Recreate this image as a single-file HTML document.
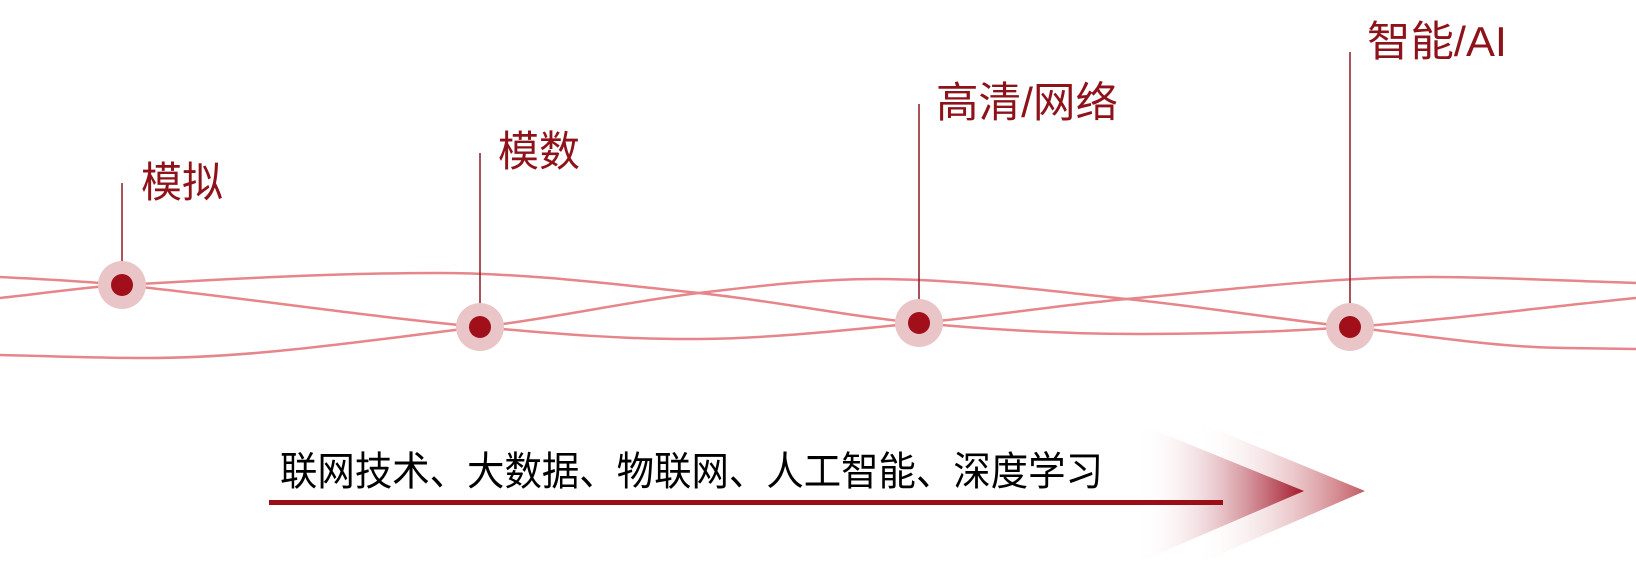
<!DOCTYPE html>
<html><head><meta charset="utf-8"><style>
html,body{margin:0;padding:0;background:#fff;}
svg{display:block;}
</style></head><body>
<svg width="1636" height="565" viewBox="0 0 1636 565" xmlns="http://www.w3.org/2000/svg">
<defs>
<linearGradient id="g1" x1="1195" y1="0" x2="1365" y2="0" gradientUnits="userSpaceOnUse">
<stop offset="0" stop-color="#fff" stop-opacity="0"/>
<stop offset="1" stop-color="#c25a63"/>
</linearGradient>
<linearGradient id="g2" x1="1137" y1="0" x2="1304" y2="0" gradientUnits="userSpaceOnUse">
<stop offset="0" stop-color="#fff" stop-opacity="0"/>
<stop offset="1" stop-color="#a3182a"/>
</linearGradient>
</defs>
<g fill="none" stroke="#e6858a" stroke-width="2.5">
<path d="M0,277 C40.7,279 81.3,280.8 122,285 C241.3,297.4 360.7,315.9 480,327 C553.3,333.8 626.7,339.7 700,339 C773,338.3 846,329.9 919,323 C988.3,316.5 1057.7,305.2 1127,299 C1228,289.9 1329,277 1430,277 C1498.7,277 1567.3,281 1636,283"/>
<path d="M0,298 C40.7,293.9 81.3,287.3 122,285 C227.3,279 332.7,273 438,273 C525,273 612,284 699,293 C772.3,300.6 845.7,316.1 919,323 C991.7,329.8 1064.3,334 1137,334 C1208,334 1279,332.1 1350,327 C1445.3,320.1 1540.7,307.5 1636,298"/>
<path d="M0,355 C48.7,356 97.3,358 146,358 C257.3,358 368.7,340.1 480,327 C553,318.4 626,301.8 699,293 C758,285.9 817,279 876,279 C959.7,279 1043.3,290.5 1127,299 C1201.3,306.5 1275.7,318.7 1350,327 C1421.7,335 1493.3,347.3 1565,348 L1636,349"/>
</g>
<g stroke="#8b1a22" stroke-width="1.5">
<line x1="122" y1="183" x2="122" y2="285"/>
<line x1="480" y1="153" x2="480" y2="327"/>
<line x1="919" y1="104" x2="919" y2="323"/>
<line x1="1350" y1="52" x2="1350" y2="327"/>
</g>
<g fill="#e9c5c8">
<circle cx="122" cy="285" r="24"/>
<circle cx="480" cy="327" r="24"/>
<circle cx="919" cy="323" r="24"/>
<circle cx="1350" cy="327" r="24"/>
</g>
<g fill="#a00f1a">
<circle cx="122" cy="285" r="11"/>
<circle cx="480" cy="327" r="11"/>
<circle cx="919" cy="323" r="11"/>
<circle cx="1350" cy="327" r="11"/>
</g>
<g fill="#8e1219" font-family="'Liberation Sans','Noto Sans CJK SC',sans-serif" font-size="42">
<text x="141" y="197" textLength="82" lengthAdjust="spacingAndGlyphs">模拟</text>
<text x="498" y="166" textLength="82" lengthAdjust="spacingAndGlyphs">模数</text>
<text x="936" y="117" textLength="182" lengthAdjust="spacingAndGlyphs">高清/网络</text>
<text x="1367" y="56" textLength="140" lengthAdjust="spacingAndGlyphs">智能/AI</text>
</g>
<polygon points="1195,421 1365,491 1195,565" fill="url(#g1)"/>
<polygon points="1137,423 1304,491 1137,563" fill="url(#g2)"/>
<rect x="269" y="500" width="954" height="5" fill="#9a0e18"/>
<text x="280" y="485" fill="#000" font-family="'Liberation Sans','Noto Sans CJK SC',sans-serif" font-size="40" textLength="823" lengthAdjust="spacingAndGlyphs">联网技术、大数据、物联网、人工智能、深度学习</text>
</svg>
</body></html>
